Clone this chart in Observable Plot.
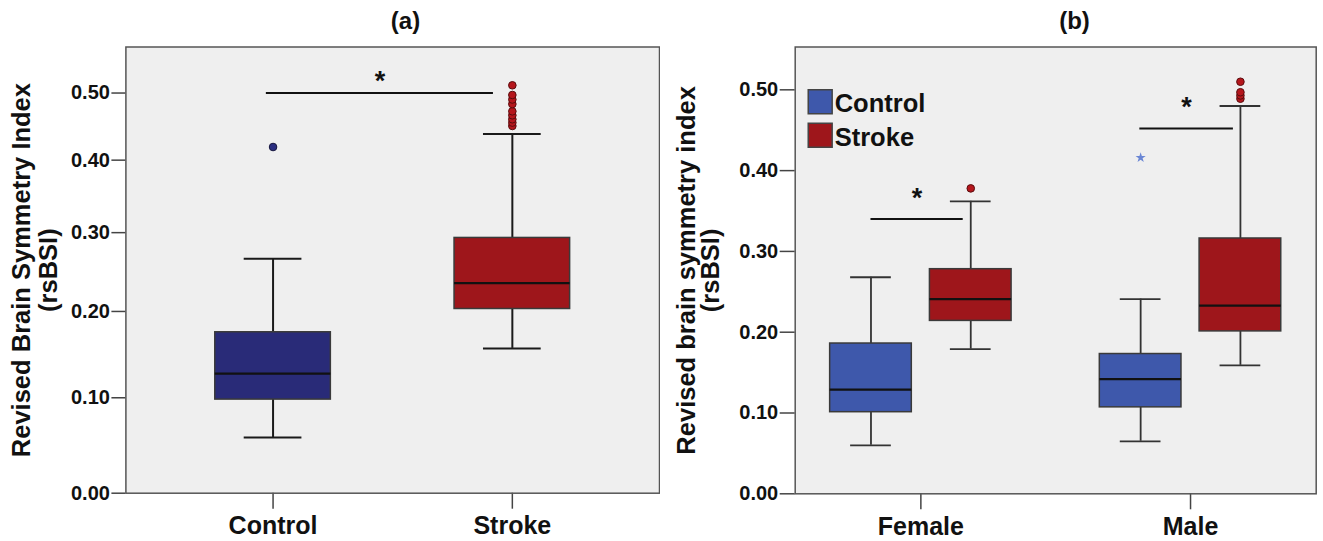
<!DOCTYPE html>
<html><head><meta charset="utf-8">
<script src="https://cdn.jsdelivr.net/npm/d3@7"></script>
<script src="https://cdn.jsdelivr.net/npm/@observablehq/plot@0.6"></script>
<style>
body{margin:0;background:#fff;}
#wrap{display:flex;width:1323px;height:541px;}
#wrap svg{font-family:"Liberation Sans",Arial,sans-serif;display:block;}
</style></head><body><div id="wrap"></div>
<script>
// ---------- Panel (a) data ----------
const groupsA = ["Control", "Stroke"];
const lowA  = [0.057, 0.156];
const q1A   = [0.098, 0.203];
const medA  = [0.127, 0.235];
const q3A   = [0.175, 0.293];
const highA = [0.266, 0.438];
const outlierGroupA = ["Control", "Stroke", "Stroke", "Stroke", "Stroke", "Stroke", "Stroke", "Stroke", "Stroke", "Stroke"];
const outlierValueA = [0.419, 0.450, 0.455, 0.460, 0.466, 0.472, 0.483, 0.490, 0.497, 0.512];
const sigFromA = [0.972];
const sigToA   = [1.921];
const sigYA    = [0.500];
const ticksA = [0, 0.1, 0.2, 0.3, 0.4, 0.5];

// ---------- Panel (b) data ----------
const sexesB = ["Female", "Male"];
const groupsB = ["Control", "Stroke"];
const boxSexB   = ["Female", "Female", "Male", "Male"];
const boxGroupB = ["Control", "Stroke", "Control", "Stroke"];
const lowB  = [0.060, 0.179, 0.065, 0.159];
const q1B   = [0.101, 0.214, 0.107, 0.201];
const medB  = [0.129, 0.241, 0.142, 0.233];
const q3B   = [0.186, 0.278, 0.173, 0.316];
const highB = [0.268, 0.362, 0.241, 0.480];
const outlierSexB   = ["Female", "Male", "Male", "Male", "Male"];
const outlierGroupB = ["Stroke", "Stroke", "Stroke", "Stroke", "Stroke"];
const outlierValueB = [0.378, 0.489, 0.493, 0.497, 0.510];
const extremeSexB   = ["Male"];
const extremeGroupB = ["Control"];
const extremeValueB = [0.416];
const sigFromB = [0.815, 1.812];
const sigToB   = [1.157, 2.159];
const sigYB    = [0.340, 0.452];
const ticksB = [0, 0.1, 0.2, 0.3, 0.4, 0.5];

// ---------- styles ----------
const FONT = "Liberation Sans, Arial, sans-serif";
const colorA = {Control: "#292b78", Stroke: "#9e161b"};
const colorB = {Control: "#3e58ab", Stroke: "#9e161b"};
const fmt = d3.format(".2f");

// ===== Panel (a) =====
const boxesA = groupsA.map((g, i) => ({pos: i + 1, group: g, low: lowA[i], q1: q1A[i], med: medA[i], q3: q3A[i], high: highA[i]}));
const outA = outlierValueA.map((v, i) => ({pos: groupsA.indexOf(outlierGroupA[i]) + 1, group: outlierGroupA[i], value: v}));
const sigA = sigYA.map((y, i) => ({x1: sigFromA[i], x2: sigToA[i], y}));
const bhA = 0.2415, chA = 0.1206;

const plotA = Plot.plot({
  width: 660, height: 541,
  marginLeft: 125.4, marginRight: 1, marginTop: 46.5, marginBottom: 48.3,
  style: {fontFamily: FONT, background: "white"},
  x: {type: "linear", domain: [0.385, 2.615]},
  y: {type: "symlog", constant: 0.9, domain: [0, 0.573]},
  marks: [
    Plot.frame({fill: "#efefef", stroke: null}),
    Plot.ruleX(boxesA, {x: "pos", y1: "low", y2: "q1", stroke: "#1a1a1a", strokeWidth: 2}),
    Plot.ruleX(boxesA, {x: "pos", y1: "q3", y2: "high", stroke: "#1a1a1a", strokeWidth: 2}),
    Plot.ruleY(boxesA, {y: "low", x1: d => d.pos - chA, x2: d => d.pos + chA, stroke: "#1a1a1a", strokeWidth: 2}),
    Plot.ruleY(boxesA, {y: "high", x1: d => d.pos - chA, x2: d => d.pos + chA, stroke: "#1a1a1a", strokeWidth: 2}),
    Plot.rect(boxesA, {x1: d => d.pos - bhA, x2: d => d.pos + bhA, y1: "q1", y2: "q3", fill: d => colorA[d.group], stroke: "#3a3a3a", strokeWidth: 1.5}),
    Plot.ruleY(boxesA, {y: "med", x1: d => d.pos - bhA, x2: d => d.pos + bhA, stroke: "#111", strokeWidth: 2.2}),
    Plot.dot(outA, {x: "pos", y: "value", r: 3.8, fill: d => d.group === "Stroke" ? "#b5161c" : "#2a2e80", stroke: d => d.group === "Stroke" ? "#5a0c0e" : "#15153d", strokeWidth: 1}),
    Plot.ruleY(sigA, {y: "y", x1: "x1", x2: "x2", stroke: "#111", strokeWidth: 2}),
    Plot.text(sigA, {x: d => (d.x1 + d.x2) / 2, y: "y", text: () => "*", dy: -12, fontSize: 27, fontWeight: "bold", fill: "#111"}),
    Plot.axisY({ticks: ticksA, tickFormat: fmt, tickSize: 14, tickPadding: 2, fontSize: 20, fontWeight: "bold", label: null, stroke: "#444", strokeWidth: 1.5, fill: "#111"}),
    Plot.axisX({ticks: [1, 2], tickFormat: d => groupsA[d - 1], tickSize: 16, tickPadding: 7, fontSize: 25, fontWeight: "bold", label: null, stroke: "#444", strokeWidth: 1.5, fill: "#111"}),
    Plot.frame({stroke: "#555", strokeWidth: 1.5}),
    Plot.text(["Revised Brain Symmetry Index\n(rsBSI)"], {frameAnchor: "left", rotate: -90, dx: -91, textAnchor: "middle", lineHeight: 1.06, fontSize: 25.5, fontWeight: "bold", fill: "#111"}),
    Plot.text(["(a)"], {frameAnchor: "top-left", dx: 405 - 125.4, dy: -26, textAnchor: "middle", lineAnchor: "middle", fontSize: 24, fontWeight: "bold", fill: "#111"})
  ]
});

// ===== Panel (b) =====
const offB = 0.185, bhB = 0.1514, chB = 0.0755;
const posB = (sex, group) => sexesB.indexOf(sex) + 1 + (group === "Control" ? -offB : offB);
const boxesB = boxSexB.map((s, i) => ({pos: posB(s, boxGroupB[i]), group: boxGroupB[i], low: lowB[i], q1: q1B[i], med: medB[i], q3: q3B[i], high: highB[i]}));
const outB = outlierValueB.map((v, i) => ({pos: posB(outlierSexB[i], outlierGroupB[i]), value: v}));
const extB = extremeValueB.map((v, i) => ({pos: posB(extremeSexB[i], extremeGroupB[i]), value: v}));
const sigB = sigYB.map((y, i) => ({x1: sigFromB[i], x2: sigToB[i], y}));
const legendRowStep = 33.5;
const legendMarks = groupsB.flatMap((g, i) => [
  Plot.dot([g], {frameAnchor: "top-left", dx: 25, dy: 54.8 + i * legendRowStep, symbol: "square", r: 13.5, fill: colorB[g], stroke: "#444", strokeWidth: 1.5}),
  Plot.text([g], {frameAnchor: "top-left", dx: 39.5, dy: 57 + i * legendRowStep, textAnchor: "start", lineAnchor: "middle", fontSize: 25.5, fontWeight: "bold", fill: "#111"})
]);

const plotB = Plot.plot({
  width: 663, height: 541,
  marginLeft: 134.7, marginRight: 7.3, marginTop: 46.5, marginBottom: 47.7,
  style: {fontFamily: FONT, background: "white"},
  x: {type: "linear", domain: [0.534, 2.466]},
  y: {type: "linear", domain: [0, 0.553]},
  marks: [
    Plot.frame({fill: "#efefef", stroke: null}),
    Plot.ruleX(boxesB, {x: "pos", y1: "low", y2: "q1", stroke: "#333", strokeWidth: 1.8}),
    Plot.ruleX(boxesB, {x: "pos", y1: "q3", y2: "high", stroke: "#333", strokeWidth: 1.8}),
    Plot.ruleY(boxesB, {y: "low", x1: d => d.pos - chB, x2: d => d.pos + chB, stroke: "#333", strokeWidth: 1.8}),
    Plot.ruleY(boxesB, {y: "high", x1: d => d.pos - chB, x2: d => d.pos + chB, stroke: "#333", strokeWidth: 1.8}),
    Plot.rect(boxesB, {x1: d => d.pos - bhB, x2: d => d.pos + bhB, y1: "q1", y2: "q3", fill: d => colorB[d.group], stroke: "#3a3a3a", strokeWidth: 1.5}),
    Plot.ruleY(boxesB, {y: "med", x1: d => d.pos - bhB, x2: d => d.pos + bhB, stroke: "#111", strokeWidth: 2.2}),
    Plot.dot(outB, {x: "pos", y: "value", r: 3.8, fill: "#b5161c", stroke: "#5a0c0e", strokeWidth: 1}),
    Plot.dot(extB, {x: "pos", y: "value", r: 3.2, symbol: "star", fill: "#6a86d4", stroke: null}),
    Plot.ruleY(sigB, {y: "y", x1: "x1", x2: "x2", stroke: "#111", strokeWidth: 2}),
    Plot.text(sigB, {x: d => (d.x1 + d.x2) / 2, y: "y", text: () => "*", dy: -21, fontSize: 27, fontWeight: "bold", fill: "#111"}),
    Plot.axisY({ticks: ticksB, tickFormat: fmt, tickSize: 15, tickPadding: 2, fontSize: 20, fontWeight: "bold", label: null, stroke: "#444", strokeWidth: 1.5, fill: "#111"}),
    Plot.axisX({ticks: [1, 2], tickFormat: d => sexesB[d - 1], tickSize: 16, tickPadding: 7, fontSize: 25, fontWeight: "bold", label: null, stroke: "#444", strokeWidth: 1.5, fill: "#111"}),
    Plot.frame({stroke: "#555", strokeWidth: 1.5}),
    ...legendMarks,
    Plot.text(["Revised brain symmetry index\n(rsBSI)"], {frameAnchor: "left", rotate: -90, dx: -95.6, textAnchor: "middle", lineHeight: 0.92, fontSize: 25.5, fontWeight: "bold", fill: "#111"}),
    Plot.text(["(b)"], {frameAnchor: "top-left", dx: 1074 - 660 - 134.7, dy: -26, textAnchor: "middle", lineAnchor: "middle", fontSize: 24, fontWeight: "bold", fill: "#111"})
  ]
});

document.getElementById("wrap").append(plotA, plotB);
</script></body></html>
